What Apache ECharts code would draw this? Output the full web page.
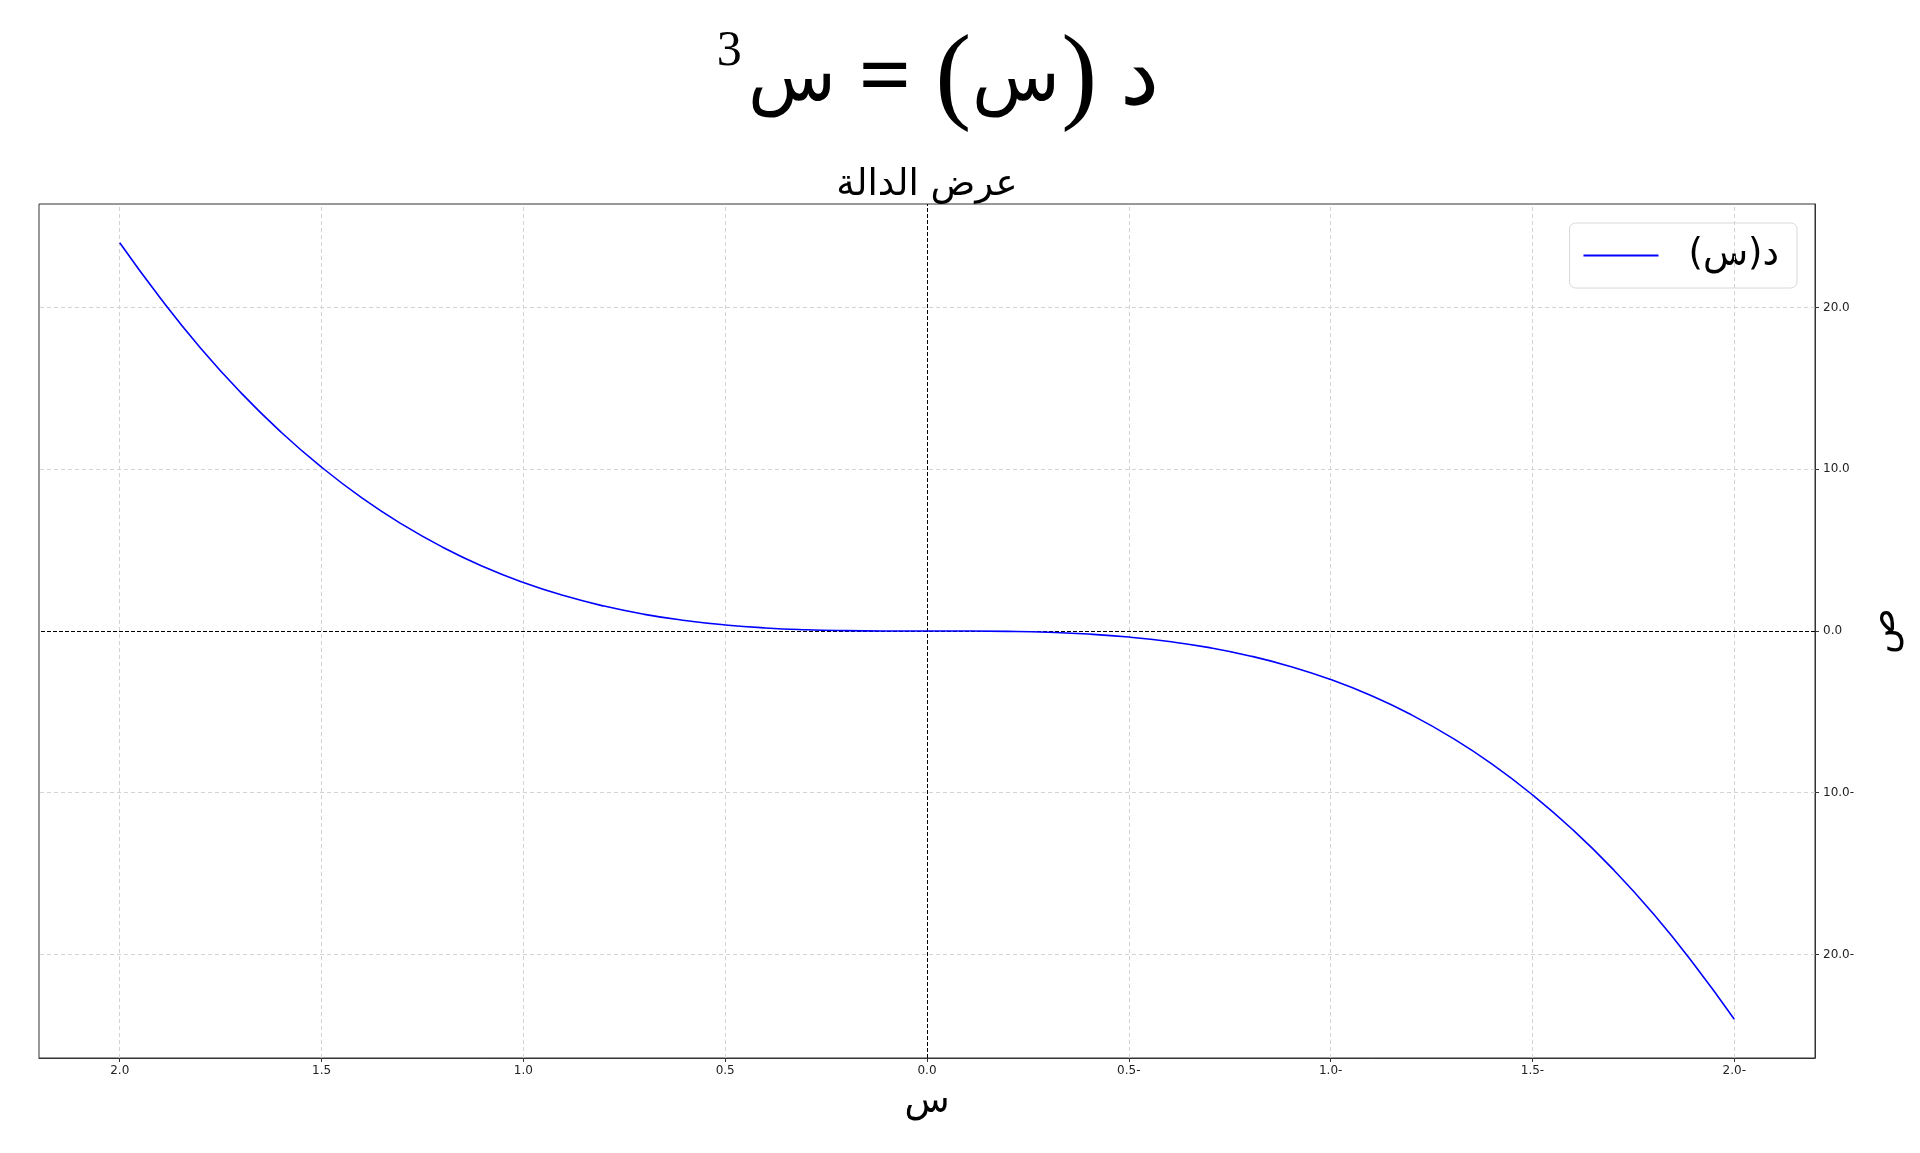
<!DOCTYPE html>
<html>
<head>
<meta charset="utf-8">
<script src="https://cdn.jsdelivr.net/npm/echarts@6/dist/echarts.min.js"></script>
<style>html,body{margin:0;padding:0;background:#fff}#c{width:1920px;height:1153px}</style>
</head>
<body>
<div id="c"></div>
<script>
// Values
const xValues = [-2.0,-1.9,-1.8,-1.7,-1.6,-1.5,-1.4,-1.3,-1.2,-1.1,-1.0,-0.9,-0.8,-0.7,-0.6,-0.5,-0.4,-0.3,-0.2,-0.1,0.0,0.1,0.2,0.3,0.4,0.5,0.6,0.7,0.8,0.9,1.0,1.1,1.2,1.3,1.4,1.5,1.6,1.7,1.8,1.9,2.0];
const yValues = [-24.0,-20.6,-17.5,-14.74,-12.29,-10.13,-8.23,-6.59,-5.18,-3.99,-3.0,-2.19,-1.54,-1.03,-0.65,-0.375,-0.19,-0.08,-0.024,-0.003,0.0,0.003,0.024,0.08,0.19,0.375,0.65,1.03,1.54,2.19,3.0,3.99,5.18,6.59,8.23,10.13,12.29,14.74,17.5,20.6,24.0];
const xTicks = [-2.0,-1.5,-1.0,-0.5,0.0,0.5,1.0,1.5,2.0];
const yTicks = [-20,-10,0,10,20];
const seriesName = 'د(س)\u200F';
const subTitle = 'عرض الدالة';
const xName = 'س';
const yName = 'ص';
// title pieces in visual (left-to-right) order: س³ = (س) د
const titleRich = '{s|3}{m|س}{e| = }{p|(}{m|س}{p|)}{d| د}';

const fmt = v => v < 0 ? Math.abs(v).toFixed(1) + '-' : v.toFixed(1);
const pts = xValues.map((x, i) => [x, yValues[i]]);
const gridColor = '#d3d3d3';
const serif = 'Liberation Serif, DejaVu Serif, serif';

const chart = echarts.init(document.getElementById('c'), null, {renderer: 'canvas'});
chart.setOption({
  animation: false,
  title: [
    {
      text: titleRich,
      left: 933, textAlign: 'center', top: 22,
      textStyle: {
        fontWeight: 'normal',
        rich: {
          s: {fontFamily: serif, fontSize: 50, fontWeight: 'normal', color: '#000', verticalAlign: 'top', padding: [0, 6, 0, 0]},
          m: {fontFamily: serif, fontSize: 72, fontWeight: 'normal', color: '#000', verticalAlign: 'middle'},
          e: {fontFamily: serif, fontSize: 92, fontWeight: 'bold', color: '#000', verticalAlign: 'middle'},
          d: {fontFamily: serif, fontSize: 88, fontWeight: 'normal', color: '#000', verticalAlign: 'middle'},
          p: {fontFamily: serif, fontSize: 108, fontWeight: 'normal', color: '#000', verticalAlign: 'middle', padding: [0, 1, 0, 1]}
        }
      }
    },
    {
      text: subTitle, left: 922, textAlign: 'center', top: 162,
      textStyle: {fontFamily: 'DejaVu Sans', fontSize: 37, fontWeight: 'normal', color: '#000'}
    }
  ],
  legend: {
    top: 223, right: 123,
    data: [seriesName],
    icon: 'rect', itemWidth: 75, itemHeight: 2,
    backgroundColor: '#fff', borderColor: '#d8d8d8', borderWidth: 1, borderRadius: 6,
    padding: [14, 18, 14, 14],
    textStyle: {fontFamily: 'DejaVu Sans', fontSize: 37, color: '#000', padding: [0, 0, 0, 25]}
  },
  grid: {left: 39, right: 105, top: 204, bottom: 95, show: true, borderColor: '#333', borderWidth: 1, containLabel: false},
  xAxis: {
    type: 'value', inverse: true, min: -2.2, max: 2.2,
    name: xName, nameLocation: 'middle', nameGap: 26,
    nameTextStyle: {fontFamily: 'DejaVu Sans', fontSize: 37, color: '#000'},
    axisLine: {show: true, onZero: false, lineStyle: {color: '#333', width: 1}},
    axisTick: {show: true, customValues: xTicks, length: 4, lineStyle: {color: '#333'}},
    axisLabel: {customValues: xTicks, formatter: fmt, fontFamily: 'DejaVu Sans', fontSize: 12, color: '#222', margin: 7},
    splitLine: {show: false}
  },
  yAxis: {
    type: 'value', position: 'right', min: -26.4, max: 26.4,
    name: yName, nameLocation: 'middle', nameGap: 44, nameRotate: 90,
    nameTextStyle: {fontFamily: 'DejaVu Sans', fontSize: 38, color: '#000'},
    axisLine: {show: true, onZero: false, lineStyle: {color: '#333', width: 1}},
    axisTick: {show: true, customValues: yTicks, length: 4, lineStyle: {color: '#333'}},
    axisLabel: {customValues: yTicks, formatter: fmt, fontFamily: 'DejaVu Sans', fontSize: 12, color: '#222', margin: 8},
    splitLine: {show: false}
  },
  series: [
    {
      type: 'line', name: 'grid', data: pts, showSymbol: false, silent: true, z: 1,
      lineStyle: {opacity: 0},
      markLine: {
        silent: true, symbol: 'none', label: {show: false}, animation: false,
        lineStyle: {color: gridColor, type: [4, 3], width: 1},
        data: xTicks.filter(v => v !== 0).map(v => ({xAxis: v})).concat(yTicks.filter(v => v !== 0).map(v => ({yAxis: v})))
      }
    },
    {
      type: 'line', name: 'zero', data: pts, showSymbol: false, silent: true, z: 2,
      lineStyle: {opacity: 0},
      markLine: {
        silent: true, symbol: 'none', label: {show: false}, animation: false,
        lineStyle: {color: '#000', type: [4, 2], width: 1},
        data: [{xAxis: 0}, {yAxis: 0}]
      }
    },
    {
      type: 'line', name: seriesName, data: pts, showSymbol: false, smooth: true, z: 5,
      lineStyle: {color: '#0000ff', width: 1.6}, itemStyle: {color: '#0000ff'}
    }
  ]
});
</script>
</body>
</html>
